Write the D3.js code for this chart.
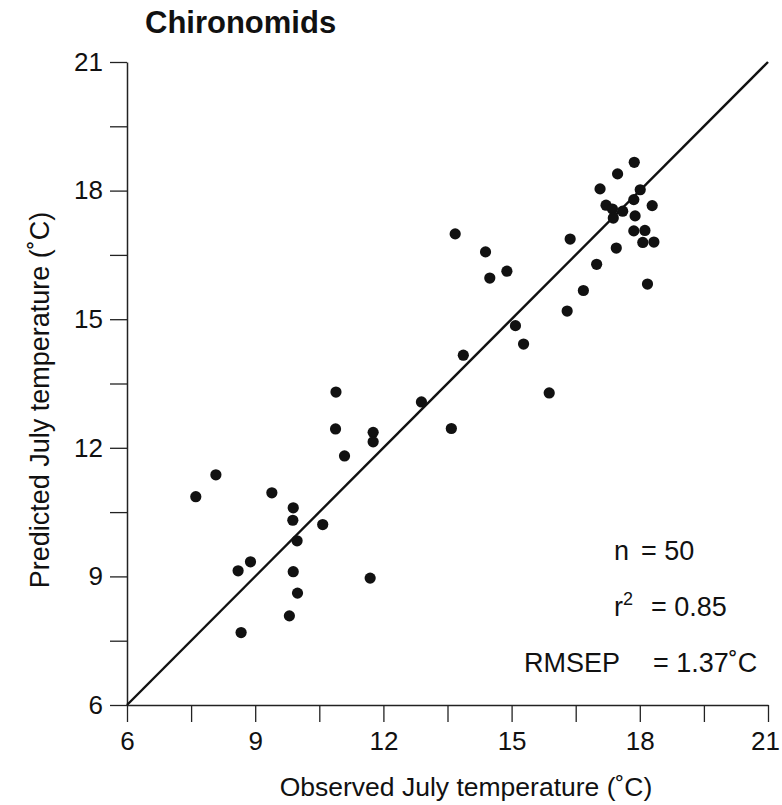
<!DOCTYPE html>
<html>
<head>
<meta charset="utf-8">
<script src="https://cdn.jsdelivr.net/npm/d3@7"></script>
<style>
  html, body { margin: 0; padding: 0; background: #fff; }
  svg { display: block; font-family: "Liberation Sans", Arial, Helvetica, sans-serif; }
</style>
</head>
<body>
<div id="chart"></div>
<script>
// ---- data ----
const title = "Chironomids";
const xLabel = "Observed July temperature (˚C)";
const yLabel = "Predicted July temperature (˚C)";
const observed = [7.61, 8.08, 8.60, 8.67, 8.89, 9.39, 9.80, 9.89, 9.88, 9.89,
  9.98, 9.99, 10.58, 10.89, 10.88, 11.09, 11.69, 11.76, 11.76, 12.89,
  13.59, 13.68, 13.87, 14.39, 14.49, 14.89, 15.09, 15.28, 15.88, 16.30,
  16.37, 16.68, 16.99, 17.07, 17.21, 17.36, 17.38, 17.45, 17.48, 17.60,
  17.86, 17.87, 17.89, 17.86, 18.01, 18.07, 18.12, 18.18, 18.29, 18.33];
const predicted = [10.86, 11.37, 9.13, 7.69, 9.34, 10.95, 8.08, 10.60, 10.31, 9.11,
  9.83, 8.61, 10.21, 13.30, 12.44, 11.81, 8.96, 12.36, 12.14, 13.07,
  12.45, 16.99, 14.16, 16.57, 15.96, 16.12, 14.85, 14.42, 13.28, 15.19,
  16.87, 15.67, 16.28, 18.04, 17.66, 17.57, 17.36, 16.66, 18.39, 17.52,
  17.79, 18.66, 17.41, 17.06, 18.02, 16.79, 17.07, 15.82, 17.65, 16.80];
const majorTicks = [6, 9, 12, 15, 18, 21];
const allTicks = [6, 7.5, 9, 10.5, 12, 13.5, 15, 16.5, 18, 19.5, 21];
const statLabels = ["n", "r", "RMSEP"];
const statValues = ["= 50", "= 0.85", "= 1.37˚C"];
const domain = [6, 21];

// ---- layout ----
const W = 782, H = 805;
const mLeft = 127, mRight = 768, mTop = 62, mBottom = 705;

const svg = d3.select("#chart").append("svg")
  .attr("width", W).attr("height", H);

const x = d3.scaleLinear().domain(domain).range([mLeft, mRight]);
const y = d3.scaleLinear().domain(domain).range([mBottom, mTop]);

const fmt = d => majorTicks.includes(d) ? String(d) : "";

const xAxis = svg.append("g")
  .attr("transform", `translate(0,${mBottom})`)
  .call(d3.axisBottom(x).tickValues(allTicks).tickFormat(fmt).tickSize(17).tickSizeOuter(0).tickPadding(10));
const yAxis = svg.append("g")
  .attr("transform", `translate(${mLeft},0)`)
  .call(d3.axisLeft(y).tickValues(allTicks).tickFormat(fmt).tickSize(17).tickSizeOuter(0).tickPadding(7));

[xAxis, yAxis].forEach(g => {
  g.select(".domain").attr("stroke", "#222").attr("stroke-width", 1.5);
  g.selectAll(".tick line").attr("stroke", "#222").attr("stroke-width", 1.3);
  g.selectAll(".tick text").attr("fill", "#111")
    .style("font-size", "26px")
    .style("font-family", "'Liberation Sans', Arial, Helvetica, sans-serif");
});
// keep the last x label inside the page
xAxis.selectAll(".tick text").filter(d => d === domain[1]).attr("dx", -3);

// 1:1 line
svg.append("line")
  .attr("x1", x(domain[0])).attr("y1", y(domain[0]))
  .attr("x2", x(domain[1])).attr("y2", y(domain[1]))
  .attr("stroke", "#111").attr("stroke-width", 2.4);

// points
svg.append("g").selectAll("circle")
  .data(observed.map((o, i) => [o, predicted[i]]))
  .join("circle")
  .attr("cx", d => x(d[0]))
  .attr("cy", d => y(d[1]))
  .attr("r", 5.6)
  .attr("fill", "#111");

// title
svg.append("text")
  .attr("x", 145).attr("y", 33)
  .attr("font-weight", "bold")
  .attr("font-size", 31)
  .attr("fill", "#111")
  .text(title);

// axis titles
svg.append("text")
  .attr("x", 466).attr("y", 796)
  .attr("text-anchor", "middle")
  .attr("font-size", 26.5)
  .attr("fill", "#111")
  .text(xLabel);

svg.append("text")
  .attr("transform", `translate(49,400) rotate(-90)`)
  .attr("text-anchor", "middle")
  .attr("font-size", 27)
  .attr("fill", "#111")
  .text(yLabel);

// stats
const statY = [560, 616, 672];
const statLabelX = [614, 614, 524];
const statEqX = [641, 651, 653];
statLabels.forEach((s, i) => {
  const t = svg.append("text")
    .attr("x", statLabelX[i]).attr("y", statY[i])
    .attr("font-size", 27).attr("fill", "#111")
    .text(s);
  if (i === 1) {
    t.append("tspan").attr("dy", -11).attr("font-size", 18).text("2");
  }
  svg.append("text")
    .attr("x", statEqX[i]).attr("y", statY[i])
    .attr("font-size", 27).attr("fill", "#111")
    .text(statValues[i]);
});
</script>
</body>
</html>
